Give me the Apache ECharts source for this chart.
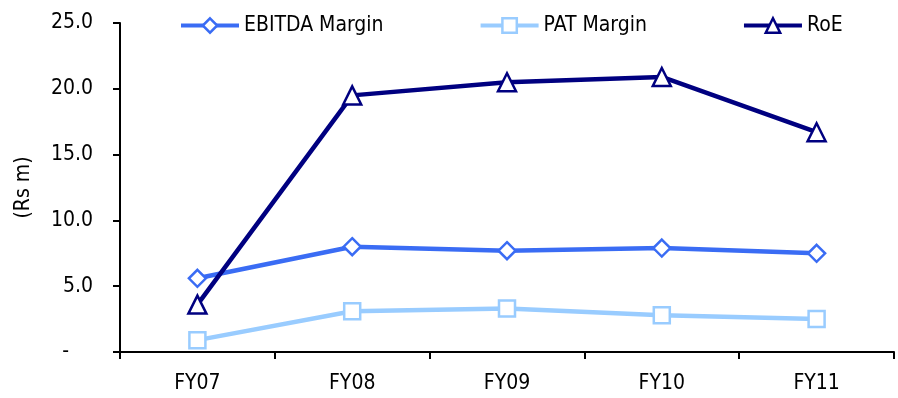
<!DOCTYPE html>
<html>
<head>
<meta charset="utf-8">
<script src="https://cdn.jsdelivr.net/npm/echarts@6/dist/echarts.min.js"></script>
<style>
  html, body { margin: 0; padding: 0; background: #fff; }
  #chart { width: 898px; height: 398px; }
</style>
</head>
<body>
<div id="chart"></div>
<script>
// Margin and return ratios by fiscal year
const categories = ['FY07', 'FY08', 'FY09', 'FY10', 'FY11'];
const ebitdaMargin = [5.6, 8.0, 7.7, 7.9, 7.5];
const patMargin = [0.9, 3.1, 3.3, 2.8, 2.5];
const roe = [3.6, 19.5, 20.5, 20.9, 16.7];
const yTicks = { min: 0, max: 25, step: 5 };

const FONT = '"DejaVu Sans Condensed", "DejaVu Sans", sans-serif';
const FS = 21;
const chart = echarts.init(document.getElementById('chart'));

function lineSeries(name, data, color, symbol) {
  return {
    name: name,
    type: 'line',
    data: data,
    symbol: symbol,
    symbolSize: symbol === 'triangle' ? 18 : (symbol === 'rect' ? 16 : 17),
    showSymbol: true,
    lineStyle: { color: color, width: 4.5 },
    itemStyle: { color: '#ffffff', borderColor: color, borderWidth: 2.5 },
    emphasis: { disabled: true },
    animation: false
  };
}

chart.setOption({
  backgroundColor: '#ffffff',
  textStyle: { fontFamily: FONT },
  legend: {
    top: 15,
    left: 179,
    padding: 0,
    itemGap: 95,
    itemWidth: 58,
    itemHeight: 18,
    lineStyle: { width: 4 },
    itemStyle: { borderWidth: 2.5 },
    textStyle: { fontFamily: FONT, fontSize: FS, color: '#000' },
    data: ['EBITDA Margin', 'PAT Margin', 'RoE']
  },
  grid: { left: 120, right: 4, top: 23, bottom: 46 },
  xAxis: {
    type: 'category',
    data: categories,
    boundaryGap: true,
    axisLine: { lineStyle: { color: '#000', width: 2 } },
    axisTick: { show: true, length: 7, inside: false, lineStyle: { color: '#000', width: 2 } },
    axisLabel: { margin: 21, fontFamily: FONT, fontSize: FS, color: '#000' },
    splitLine: { show: false }
  },
  yAxis: {
    type: 'value',
    min: yTicks.min,
    max: yTicks.max,
    interval: yTicks.step,
    name: '(Rs m)',
    nameLocation: 'middle',
    nameGap: 86,
    nameRotate: 90,
    nameTextStyle: { fontFamily: FONT, fontSize: FS, color: '#000' },
    axisLine: { show: true, lineStyle: { color: '#000', width: 2 } },
    axisTick: { show: true, length: 7, lineStyle: { color: '#000', width: 2 } },
    axisLabel: {
      margin: 27,
      fontFamily: FONT, fontSize: FS, color: '#000',
      formatter: v => (v === 0 ? '-    ' : v.toFixed(1))
    },
    splitLine: { show: false }
  },
  series: [
    lineSeries('EBITDA Margin', ebitdaMargin, '#3a6cf4', 'diamond'),
    lineSeries('PAT Margin', patMargin, '#99ccff', 'rect'),
    lineSeries('RoE', roe, '#000080', 'triangle')
  ]
});
</script>
</body>
</html>
